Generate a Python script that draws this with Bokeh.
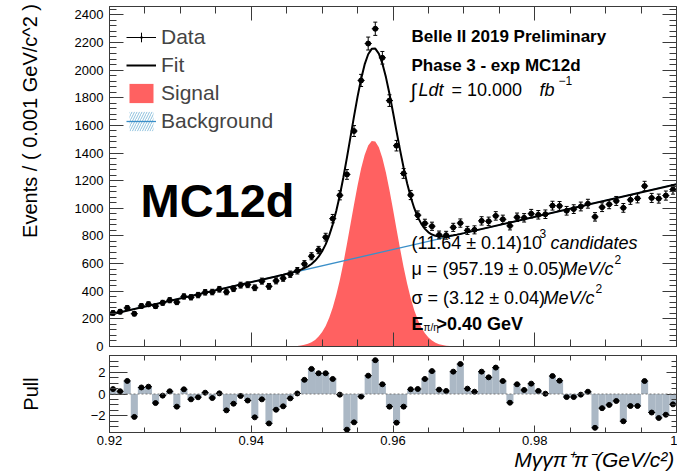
import numpy as np
from bokeh.plotting import figure
from bokeh.layouts import column
from bokeh.models import (Range1d, LinearAxis, SingleIntervalTicker, Label, Legend, LegendItem,
                          ColumnDataSource, Whisker, TeeHead, Span, CustomJSTickFormatter)
from bokeh.embed import file_html
from bokeh.resources import INLINE

FONT = "Liberation Sans"

# ---------------- data ----------------
BIN_W = 0.001
bin_centers = np.round(np.arange(0.9205, 1.0, BIN_W), 4)   # 80 bins, 0.92 .. 1.00 GeV

counts = [243, 252, 279, 237, 293, 306, 292, 316, 335, 321,
          362, 356, 372, 392, 394, 414, 394, 418, 444, 447,
          425, 473, 435, 475, 494, 523, 548, 597, 653, 698,
          791, 925, 1094, 1245, 1559, 1925, 2192, 2299, 2089, 1779,
          1453, 1252, 1096, 950, 891, 870, 807, 805, 862, 893,
          840, 844, 909, 906, 945, 920, 873, 935, 931, 961,
          953, 957, 1019, 1017, 982, 994, 1013, 1033, 938, 1008,
          1029, 1053, 1003, 1061, 1072, 1161, 1075, 1070, 1092, 1136]

pulls = [0.45, 0.25, 1.2, -2.1, 0.6, 0.67, -0.83, -0.15, 0.25, -1.16,
         0.43, -0.49, -0.3, 0.12, -0.37, 0.06, -1.5, -0.89, -0.18, -0.6,
         -2.14, -0.49, -2.7, -1.44, -1.13, -0.4, 0.05, 1.3, 2.3, 1.9,
         1.9, 1.38, -0.06, -3.27, -2.6, -0.24, 1.68, 3.1, 0.89, -1.16,
         -2.63, -1.16, 0.43, 0.46, 1.38, 2.1, 0.4, 0.28, 2.05, 2.75,
         0.49, 0.21, 2.05, 1.53, 2.42, 1.19, -0.8, 0.89, 0.37, 0.95,
         0.28, 0.03, 1.65, 1.22, -0.28, -0.28, -0.06, 0.21, -3.1, -1.3,
         -1.0, -0.64, -2.5, -1.1, -1.1, 1.19, -1.7, -2.2, -1.9, -0.95]

# signal component of the fit (red area), sampled every 0.5 MeV
sig_x = np.round(np.arange(0.943, 0.97025, 0.0005), 4)
signal = [0.05, 0.1, 0.2, 0.4, 0.7, 1.3, 2.4, 4.2, 7.2, 12,
          19.4, 30.8, 47.6, 71.5, 104.8, 149, 208, 282, 374, 481,
          605, 741, 884, 1028, 1165, 1287, 1386, 1454, 1487, 1483,
          1441, 1364, 1259, 1133, 993, 849, 707, 574, 454, 350,
          263, 193, 138, 96, 65, 43, 27.7, 17, 10.6, 6.3,
          3.7, 2.0, 1.1, 0.6, 0.3]

# background component (straight line)
bg_x = [0.920, 1.000]
bg_y = [230, 1174]

legend_labels = ["Data", "Fit", "Signal", "Background"]
y_title = "Events / ( 0.001 GeV/c^2 )"
x_title = "M\u03b3\u03b3\u03c0\u207a\u03c0\u207b(GeV/c\u00b2)"
# ---------------------------------------------------------------

counts_a = np.array(counts, dtype=float)
err = np.sqrt(counts_a)
fit_x = np.concatenate([[0.920], sig_x, [1.000]])
fit_y = np.interp(fit_x, bg_x, bg_y) + np.concatenate([[0.0], signal, [0.0]])

X0, X1 = 0.92, 1.00
Y_MAX = 2460
P_MIN, P_MAX = -3.53, 3.53

W, H1, H2 = 677, 354, 120
FL, FR = 109, 676          # frame left/right (canvas px)
MT, MB = 6, 346            # main frame top/bottom (canvas px)
PT, PB = 355, 432          # pull frame top/bottom (canvas px)
NBSP = "\u00a0"


def mx(px):
    return X0 + (px - FL) / (FR - FL) * (X1 - X0)


def my(py):
    return (MB - py) / (MB - MT) * Y_MAX


def lab(fig, px, py, text, size, style="normal", align="left", baseline="alphabetic"):
    fig.add_layout(Label(x=mx(px), y=my(py), text=text, text_font=FONT,
                         text_font_size=f"{size}px", text_font_style=style,
                         text_align=align, text_baseline=baseline, text_color="black"))


AX_COL = "#3a3a3a"


def add_axis(fig, side, interval, nminor, major_in, minor_in, labels=False,
             formatter=None, standoff=5, fsize="13px"):
    ax = LinearAxis(ticker=SingleIntervalTicker(interval=interval, num_minor_ticks=nminor))
    ax.major_tick_in = major_in
    ax.major_tick_out = 0
    ax.minor_tick_in = minor_in
    ax.minor_tick_out = 0
    ax.axis_line_color = AX_COL
    ax.major_tick_line_color = AX_COL
    ax.minor_tick_line_color = AX_COL
    if labels:
        ax.major_label_text_font = FONT
        ax.major_label_text_font_size = fsize
        ax.major_label_text_color = "black"
        ax.major_label_standoff = standoff
        if formatter is not None:
            ax.formatter = formatter
    else:
        # tick marks only (mirror axis of the ROOT frame)
        ax.major_label_text_font_size = "0px"
        ax.major_label_text_color = None
        ax.major_label_standoff = 0
    fig.add_layout(ax, side)
    return ax


def set_title(ax, text, size, style, standoff, lead=0):
    # leading no-break spaces shift the centred title towards the axis end
    ax.axis_label = NBSP * lead + text
    ax.axis_label_text_font = FONT
    ax.axis_label_text_font_size = f"{size}px"
    ax.axis_label_text_font_style = style
    ax.axis_label_text_color = "black"
    ax.axis_label_standoff = standoff


# ======================= main panel =======================
p = figure(width=W, height=H1, x_range=Range1d(X0, X1), y_range=Range1d(0, Y_MAX),
           output_backend="svg", toolbar_location=None,
           x_axis_location=None, y_axis_location=None,
           min_border_left=FL, min_border_right=W - FR,
           min_border_top=MT, min_border_bottom=H1 - MB)
p.grid.visible = False
p.outline_line_color = None
p.background_fill_color = "white"
p.border_fill_color = "white"

ax_l = add_axis(p, "left", 200, 5, 14, 7, labels=True, standoff=6)
set_title(ax_l, y_title, 20, "normal", 31, lead=20)
add_axis(p, "right", 200, 5, 14, 7)
add_axis(p, "below", 0.02, 4, 14, 7)
add_axis(p, "above", 0.02, 4, 14, 7)

sig_r = p.varea(x=sig_x, y1=np.zeros(len(sig_x)), y2=signal, fill_color="#ff6161")
bg_r = p.line(bg_x, bg_y, line_color="#3b8fc8", line_width=1.3)
fit_r = p.line(fit_x, fit_y, line_color="black", line_width=2)

src = ColumnDataSource(dict(x=bin_centers, y=counts_a, lo=counts_a - err, hi=counts_a + err,
                            x0=bin_centers - BIN_W / 2, x1=bin_centers + BIN_W / 2))
# zero-height hatched quads: invisible in the plot, give the legend its hatched box
bg_hatch = p.quad(left="x0", right="x1", top="y", bottom="y", source=src,
                  fill_color=None, line_color=None,
                  hatch_pattern="/", hatch_color="#8cc0dc", hatch_scale=5, hatch_weight=1)
hseg = p.segment("x0", "y", "x1", "y", source=src, line_color="black", line_width=1)
p.add_layout(Whisker(base="x", upper="hi", lower="lo", source=src, line_color="black",
                     line_width=1, level="glyph",
                     upper_head=TeeHead(size=4, line_color="black", line_width=1),
                     lower_head=TeeHead(size=4, line_color="black", line_width=1)))
p.scatter("x", "y", source=src, marker="circle", size=5, color="black")
# size-0 markers: nothing in the plot, legend glyphs only
lg_cross = p.scatter("x", "y", source=src, marker="cross", size=0, line_color="black",
                     line_width=1)
lg_dot = p.scatter("x", "y", source=src, marker="dot", size=0, line_color="black",
                   fill_color="black")

legend = Legend(items=[LegendItem(label=legend_labels[0], renderers=[hseg, lg_cross, lg_dot]),
                       LegendItem(label=legend_labels[1], renderers=[fit_r]),
                       LegendItem(label=legend_labels[2], renderers=[sig_r]),
                       LegendItem(label=legend_labels[3], renderers=[bg_hatch, bg_r])],
                location="top_left", margin=17, padding=0, spacing=0,
                glyph_width=30, glyph_height=24, label_height=28, label_standoff=5,
                label_text_font=FONT, label_text_font_size="21px",
                border_line_color=None, background_fill_alpha=0)
p.add_layout(legend)

# texts inside the frame
lab(p, 140, 200, "MC12d", 47, style="bold")
lab(p, 411, 36, "Belle II 2019 Preliminary", 17, style="bold")
lab(p, 411, 65, "Phase 3 - exp MC12d", 17, style="bold")
lab(p, 410, 90, "\u222b", 20)
lab(p, 418, 89, "Ldt", 18, style="italic")
lab(p, 451, 89, "= 10.000", 18)
lab(p, 539, 89, "fb", 18, style="italic")
lab(p, 558, 80, "\u22121", 12)

lab(p, 411, 242, "(11.64 \u00b1 0.14)10", 18)
lab(p, 539, 233, "3", 12)
lab(p, 550, 242, "candidates", 18, style="italic")
lab(p, 411, 268, "\u03bc = (957.19 \u00b1 0.05)", 18)
lab(p, 562, 268, "MeV/c", 18, style="italic")
lab(p, 614, 259, "2", 12)
lab(p, 411, 297, "\u03c3 = (3.12 \u00b1 0.04)", 18)
lab(p, 543, 297, "MeV/c", 18, style="italic")
lab(p, 595, 288, "2", 12)
lab(p, 411, 323, "E", 18, style="bold")
lab(p, 423, 327, "\u03c0/\u03b7", 10)
lab(p, 436, 323, ">0.40 GeV", 18, style="bold")

# ======================= pull panel =======================
p2 = figure(width=W, height=H2, x_range=p.x_range, y_range=Range1d(P_MIN, P_MAX),
            output_backend="svg", toolbar_location=None,
            x_axis_location=None, y_axis_location=None,
            min_border_left=FL, min_border_right=W - FR,
            min_border_top=PT - H1, min_border_bottom=H1 + H2 - PB)
p2.grid.visible = False
p2.outline_line_color = None
p2.background_fill_color = "white"
p2.border_fill_color = "white"

xfmt = CustomJSTickFormatter(code="return String(Number(tick.toFixed(2)));")
yfmt = CustomJSTickFormatter(code="return tick < 0 ? '\\u2212' + Math.abs(tick) : String(tick);")
ax_pl = add_axis(p2, "left", 2, 4, 18, 9, labels=True, formatter=yfmt, standoff=4)
set_title(ax_pl, "Pull", 20, "normal", 46)
add_axis(p2, "right", 2, 4, 10, 5)
ax_pb = add_axis(p2, "below", 0.02, 4, 7, 5, labels=True, formatter=xfmt, standoff=3)
set_title(ax_pb, x_title, 21, "italic", 0, lead=69)
add_axis(p2, "above", 0.02, 4, 7, 5)

psrc = ColumnDataSource(dict(x=bin_centers, y=pulls, x0=bin_centers - BIN_W / 2,
                             x1=bin_centers + BIN_W / 2))
p2.quad(left="x0", right="x1", bottom=0, top="y", source=psrc,
        fill_color="#abb8c5", line_color=None)
p2.add_layout(Span(location=0, dimension="width", line_color="#777777",
                   line_dash="2 2", line_width=1))
p2.segment("x0", "y", "x1", "y", source=psrc, line_color="black", line_width=1)
p2.scatter("x", "y", source=psrc, marker="circle", size=5, color="black")

layout = column(p, p2, spacing=0)
open("out.html", "w").write(file_html(layout, INLINE))
